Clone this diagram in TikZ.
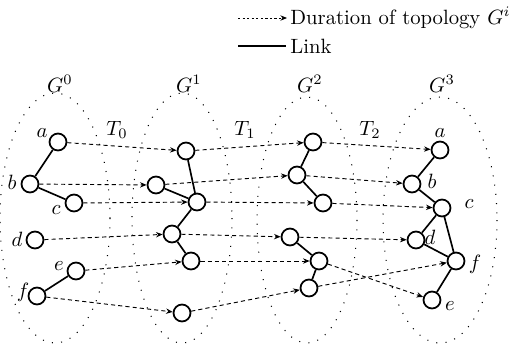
\documentclass[tikz,border=0pt]{standalone}
\usetikzlibrary{arrows.meta}
\begin{document}
\begin{tikzpicture}[x=0.4835pt,y=-0.4835pt,
  vtx/.style={circle,draw,line width=0.85pt,minimum size=8.2pt,inner sep=0pt,fill=white},
  lnk/.style={line width=0.8pt},
  dur/.style={dash pattern=on 2pt off 1.5pt,line width=0.45pt,-{Stealth[length=3.2pt,width=2.6pt]}},
  grp/.style={loosely dotted,line width=0.5pt},
  lbl/.style={inner sep=0pt}]
\useasboundingbox (0,0) rectangle (520,345);
% ellipses
\draw[grp] (55,218) ellipse [x radius=55, y radius=125];
\draw[grp] (182,218) ellipse [x radius=50, y radius=125];
\draw[grp] (307,220) ellipse [x radius=50, y radius=123];
\draw[grp] (440,220) ellipse [x radius=57, y radius=123];
% group labels
\node[lbl] (g0) at (60,84) {$G^0$};
\node[lbl] (g1) at (189,84) {$G^1$};
\node[lbl] (g2) at (310,84) {$G^2$};
\node[lbl] (g3) at (442,84) {$G^3$};
\node[lbl] (t0) at (117,130) {$T_0$};
\node[lbl] (t1) at (245,130) {$T_1$};
\node[lbl] (t2) at (370,130) {$T_2$};
% G0
\node[vtx] (a0) at (58,142) {};
\node[vtx] (b0) at (30,184) {};
\node[vtx] (c0) at (74,203) {};
\node[vtx] (d0) at (35,240) {};
\node[vtx] (e0) at (76,271) {};
\node[vtx] (f0) at (37,296) {};
% G1
\node[vtx] (a1) at (186,151) {};
\node[vtx] (b1) at (156,185) {};
\node[vtx] (c1) at (197,202) {};
\node[vtx] (d1) at (172,234) {};
\node[vtx] (e1) at (191,261) {};
\node[vtx] (f1) at (182,313) {};
% G2
\node[vtx] (a2) at (313,142) {};
\node[vtx] (b2) at (297,175) {};
\node[vtx] (c2) at (323,203) {};
\node[vtx] (d2) at (290,237) {};
\node[vtx] (e2) at (319,261) {};
\node[vtx] (f2) at (309,288) {};
% G3
\node[vtx] (a3) at (440,150) {};
\node[vtx] (b3) at (412,184) {};
\node[vtx] (c3) at (442,208) {};
\node[vtx] (d3) at (416,240) {};
\node[vtx] (f3) at (456,261) {};
\node[vtx] (e3) at (432,300) {};
% vertex labels
\node[lbl] (la0) at (42,133) {$a$};
\node[lbl] (lb0) at (12,182) {$b$};
\node[lbl] (lc0) at (56,210) {$c$};
\node[lbl] (ld0) at (17,239) {$d$};
\node[lbl] (le0) at (59,266) {$e$};
\node[lbl] (lf0) at (23,292) {$f$};
\node[lbl] (la3) at (440,133) {$a$};
\node[lbl] (lb3) at (432,181) {$b$};
\node[lbl] (lc3) at (469,204) {$c$};
\node[lbl] (ld3) at (430,237) {$d$};
\node[lbl] (lf3) at (475,264) {$f$};
\node[lbl] (le3) at (450,306) {$e$};
% links
\draw[lnk] (a0) -- (b0) (b0) -- (c0) (e0) -- (f0);
\draw[lnk] (a1) -- (c1) (b1) -- (c1) (c1) -- (d1) (d1) -- (e1);
\draw[lnk] (a2) -- (b2) (b2) -- (c2) (d2) -- (e2) (e2) -- (f2);
\draw[lnk] (a3) -- (b3) (b3) -- (c3) (c3) -- (d3) (c3) -- (f3) (d3) -- (f3) (f3) -- (e3);
% durations
\foreach \v in {a,b,c,d,e,f}{
  \draw[dur] (\v0) -- (\v1);
  \draw[dur] (\v1) -- (\v2);
  \draw[dur] (\v2) -- (\v3);
}
% legend
\coordinate (ls1) at (238,18);
\coordinate (le1) at (287,18);
\coordinate (ls2) at (238,46);
\coordinate (le2) at (286,46);
\draw[dash pattern=on 1.1pt off 1.1pt,line width=0.45pt,-{Stealth[length=3.2pt,width=2.6pt]}] (ls1) -- (le1);
\draw[lnk] (ls2) -- (le2);
\node[anchor=west,inner sep=0pt] (lt1) at (290,18) {Duration of topology $G^i$};
\node[anchor=west,inner sep=0pt] (lt2) at (290,46) {Link};
\end{tikzpicture}
\end{document}
